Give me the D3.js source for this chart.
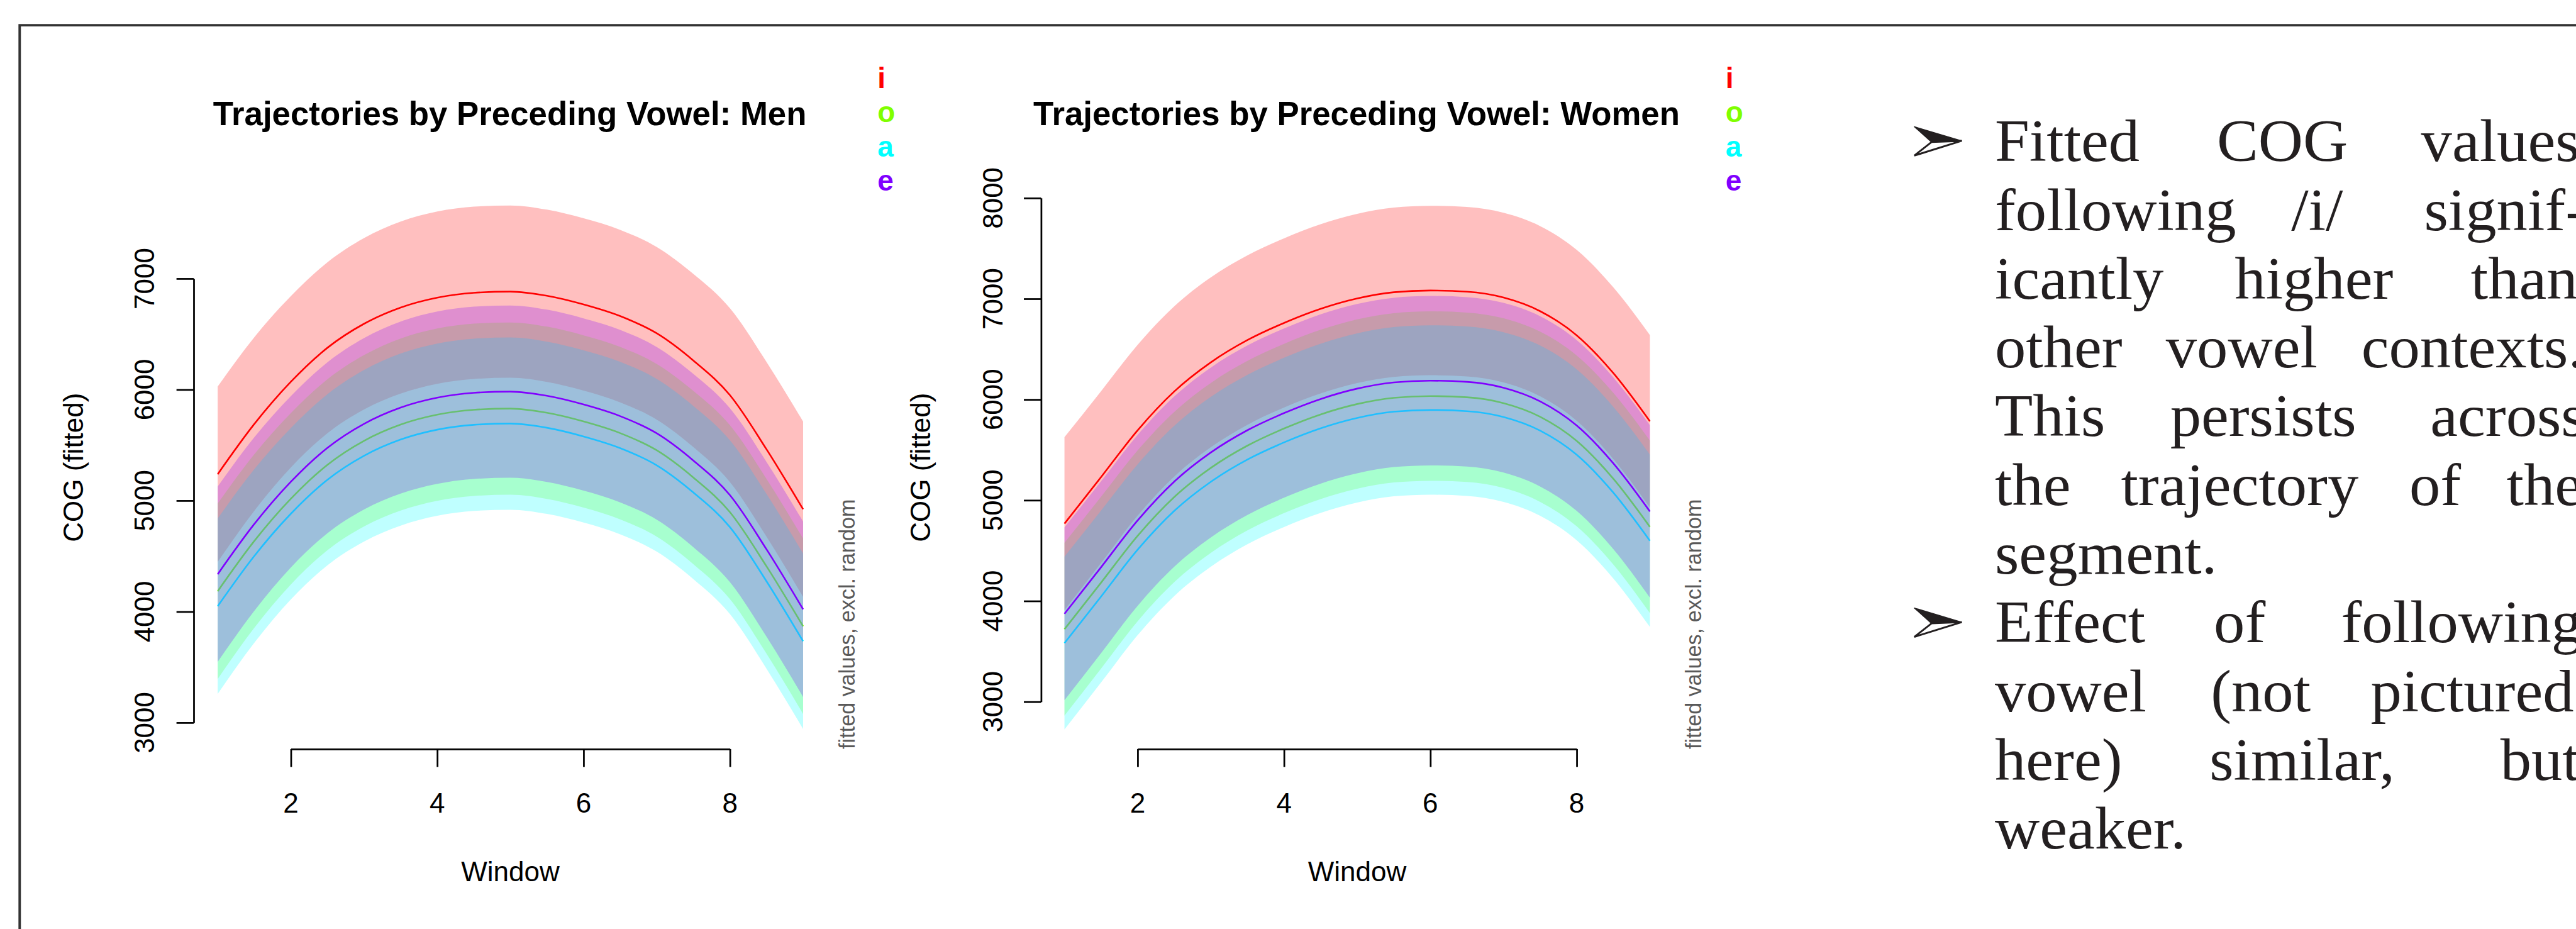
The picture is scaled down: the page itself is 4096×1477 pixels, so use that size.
<!DOCTYPE html>
<html>
<head>
<meta charset="utf-8">
<script src="https://cdn.jsdelivr.net/npm/d3@7"></script>
<style>
  html, body { margin: 0; padding: 0; background: #fff; }
  svg { display: block; }
</style>
</head>
<body>
<script>
// ---------------- data ----------------
const windows = [1, 1.5, 2, 2.5, 3, 3.5, 4, 4.5, 5, 5.5, 6, 6.5, 7, 7.5, 8, 8.5, 9];
const vowels = ["i", "o", "a", "e"];
const vowelColors = ["#FF0000", "#80FF00", "#00FFFF", "#8000FF"];

// Men: fitted COG per preceding vowel
const menI = [5238, 5690, 6071, 6377, 6593, 6739, 6828, 6872, 6883, 6845, 6767, 6662, 6507, 6262, 5950, 5462, 4922];
const menO = [4184, 4636, 5017, 5323, 5539, 5685, 5774, 5818, 5829, 5791, 5713, 5608, 5453, 5208, 4896, 4408, 3868];
const menA = [4049, 4501, 4882, 5188, 5404, 5550, 5639, 5683, 5694, 5656, 5578, 5473, 5318, 5073, 4761, 4273, 3733];
const menE = [4337, 4789, 5170, 5476, 5692, 5838, 5927, 5971, 5982, 5944, 5866, 5761, 5606, 5361, 5049, 4561, 4021];
const menCI = [790, 782, 772, 770, 772, 775, 776, 776, 776, 776, 776, 777, 778, 780, 783, 787, 790];

// Women
const womenI = [4768, 5230, 5695, 6080, 6369, 6590, 6760, 6900, 7003, 7065, 7082, 7070, 7012, 6877, 6637, 6262, 5784];
const womenO = [3720, 4182, 4647, 5032, 5321, 5542, 5712, 5852, 5955, 6017, 6034, 6022, 5964, 5829, 5589, 5214, 4736];
const womenA = [3582, 4044, 4509, 4894, 5183, 5404, 5574, 5714, 5817, 5879, 5896, 5884, 5826, 5691, 5451, 5076, 4598];
const womenE = [3873, 4335, 4800, 5185, 5474, 5695, 5865, 6005, 6108, 6170, 6187, 6175, 6117, 5982, 5742, 5367, 4889];
const womenCI = [858, 853, 848, 845, 843, 841, 840, 840, 840, 840, 841, 841, 842, 845, 848, 852, 856];

const menYTicks = [3000, 4000, 5000, 6000, 7000];
const womenYTicks = [3000, 4000, 5000, 6000, 7000, 8000];
const xTicks = [2, 4, 6, 8];

const titles = ["Trajectories by Preceding Vowel: Men", "Trajectories by Preceding Vowel: Women"];
const yTitle = "COG (fitted)";
const xTitle = "Window";
const noteText = "fitted values, excl. random";

const bulletLines = [
  { bullet: true,  words: ["Fitted", "COG", "values"] },
  { bullet: false, words: ["following", "/i/", "signif-"] },
  { bullet: false, words: ["icantly", "higher", "than"] },
  { bullet: false, words: ["other", "vowel", "contexts."] },
  { bullet: false, words: ["This", "persists", "across"] },
  { bullet: false, words: ["the", "trajectory", "of", "the"] },
  { bullet: false, words: ["segment."] },
  { bullet: true,  words: ["Effect", "of", "following"] },
  { bullet: false, words: ["vowel", "(not", "pictured"] },
  { bullet: false, words: ["here)", "similar,", "but"] },
  { bullet: false, words: ["weaker."] }
];

// ---------------- layout (reference pixel space, scaled to window) ----------------
const W = 4096, H = 1477;
const S = W / 4189;
const sans = "'Liberation Sans', Arial, Helvetica, sans-serif";
const serif = "'Liberation Serif', 'Times New Roman', serif";

const svg = d3.select("body").append("svg").attr("width", W).attr("height", H);
svg.append("rect").attr("width", W).attr("height", H).attr("fill", "#fff");
const root = svg.append("g").attr("transform", `scale(${S})`);

// slide frame
root.append("path").attr("d", "M32,1700V41H4400")
  .attr("fill", "none").attr("stroke", "#333").attr("stroke-width", 4);

const panels = [
  { title: titles[0], fits: [menI, menO, menA, menE], ci: menCI, yTicks: menYTicks,
    yDomain: [3000, 7000], yRange: [1175, 453], xRange: [473, 1187],
    axisX: 315, tickLabX: 251, yTitleX: 135, legendX: 1427, noteX: 1390, centerX: 830 },
  { title: titles[1], fits: [womenI, womenO, womenA, womenE], ci: womenCI, yTicks: womenYTicks,
    yDomain: [3000, 8000], yRange: [1141, 322], xRange: [1850, 2564],
    axisX: 1693, tickLabX: 1630, yTitleX: 1513, legendX: 2806, noteX: 2766, centerX: 2207 }
];

const axisBottomY = 1218;

panels.forEach(p => {
  const g = root.append("g");
  const x = d3.scaleLinear().domain([2, 8]).range(p.xRange);
  const y = d3.scaleLinear().domain(p.yDomain).range(p.yRange);

  // bands and lines
  vowels.forEach((v, k) => {
    const rows = windows.map((w, j) => ({ w, fit: p.fits[k][j], ci: p.ci[j] }));
    const area = d3.area().curve(d3.curveMonotoneX)
      .x(d => x(d.w)).y0(d => y(d.fit - d.ci)).y1(d => y(d.fit + d.ci));
    const line = d3.line().curve(d3.curveMonotoneX)
      .x(d => x(d.w)).y(d => y(d.fit));
    g.append("path").datum(rows).attr("d", area)
      .attr("fill", vowelColors[k]).attr("fill-opacity", 0.25).attr("stroke", "none");
    g.append("path").datum(rows).attr("d", line)
      .attr("fill", "none").attr("stroke", vowelColors[k]).attr("stroke-width", 2.7);
  });

  // y axis
  const ya = g.append("g").attr("transform", `translate(${p.axisX},0)`)
    .call(d3.axisLeft(y).tickValues(p.yTicks).tickSize(28).tickSizeOuter(0).tickFormat(""));
  ya.selectAll("path,line").attr("stroke", "#000").attr("stroke-width", 2.8);
  ya.selectAll("text").remove();
  p.yTicks.forEach(t => {
    g.append("text").attr("transform", `translate(${p.tickLabX},${y(t)}) rotate(-90)`)
      .attr("text-anchor", "middle").attr("font-family", sans).attr("font-size", 45)
      .attr("fill", "#000").text(t);
  });

  // x axis
  const xa = g.append("g").attr("transform", `translate(0,${axisBottomY})`)
    .call(d3.axisBottom(x).tickValues(xTicks).tickSize(29).tickSizeOuter(0).tickFormat(""));
  xa.selectAll("path,line").attr("stroke", "#000").attr("stroke-width", 2.8);
  xa.selectAll("text").remove();
  xTicks.forEach(t => {
    g.append("text").attr("x", x(t)).attr("y", 1321).attr("text-anchor", "middle")
      .attr("font-family", sans).attr("font-size", 45).attr("fill", "#000").text(t);
  });

  // titles
  g.append("text").attr("x", p.centerX - 1).attr("y", 204).attr("text-anchor", "middle")
    .attr("font-family", sans).attr("font-size", 54).attr("font-weight", "bold")
    .attr("fill", "#000").text(p.title);
  g.append("text").attr("x", p.centerX).attr("y", 1433).attr("text-anchor", "middle")
    .attr("font-family", sans).attr("font-size", 45).attr("fill", "#000").text(xTitle);
  g.append("text").attr("transform", `translate(${p.yTitleX},760) rotate(-90)`)
    .attr("text-anchor", "middle").attr("font-family", sans).attr("font-size", 45)
    .attr("fill", "#000").text(yTitle);
  g.append("text").attr("transform", `translate(${p.noteX},${axisBottomY}) rotate(-90)`)
    .attr("text-anchor", "start").attr("font-family", sans).attr("font-size", 35)
    .attr("fill", "#595959").text(noteText);

  // legend
  vowels.forEach((v, k) => {
    g.append("text").attr("x", p.legendX).attr("y", 143 + k * 55.7)
      .attr("font-family", sans).attr("font-size", 47).attr("font-weight", "bold")
      .attr("fill", vowelColors[k]).text(v);
  });
});

// ---------------- right-hand text ----------------
const wordX = [
  [3244, 3605, 3937],
  [3244, 3726, 3942],
  [3244, 3634, 4018],
  [3244, 3522, 3840],
  [3244, 3529, 3952],
  [3244, 3449, 3918, 4076],
  [3244],
  [3244, 3600, 3807],
  [3244, 3595, 3855],
  [3244, 3593, 4066],
  [3244]
];
const tg = root.append("g");
bulletLines.forEach((ln, i) => {
  const base = 262 + i * 111.8;
  ln.words.forEach((w, j) => {
    tg.append("text").attr("transform", `translate(${wordX[i][j]},${base}) scale(1.04,1)`)
      .attr("font-family", serif).attr("font-size", 97).attr("fill", "#231f20").text(w);
  });
  if (ln.bullet) {
    const c = base - 33;
    tg.append("path").attr("d", `M3113,${c - 23}L3190,${c}L3141,${c + 2}Z`)
      .attr("fill", "#231f20").attr("stroke", "#231f20").attr("stroke-width", 1.5)
      .attr("stroke-linejoin", "round");
    tg.append("path").attr("d", `M3141,${c + 2}L3190,${c}L3113,${c + 24}Z`)
      .attr("fill", "#fff").attr("stroke", "#231f20").attr("stroke-width", 3)
      .attr("stroke-linejoin", "miter");
  }
});
</script>
</body>
</html>
